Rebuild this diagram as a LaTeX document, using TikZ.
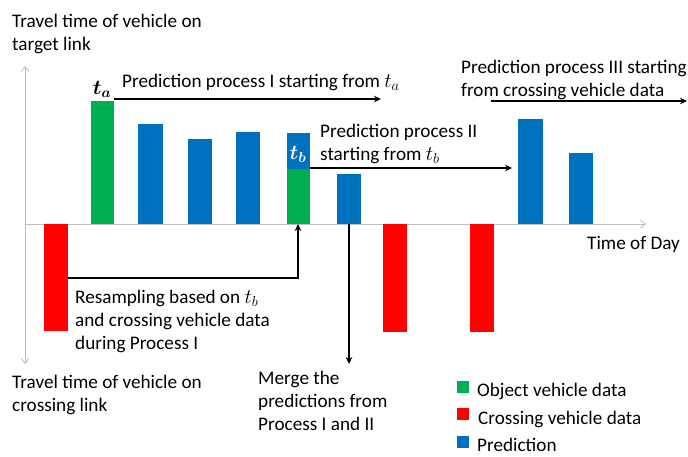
\documentclass[tikz,border=0pt]{standalone}
\usepackage{fontspec}
\setmainfont{Carlito}
\usepackage{amsmath,bm}
\usetikzlibrary{arrows.meta}
\definecolor{bgreen}{RGB}{0,176,80}
\definecolor{bred}{RGB}{255,0,0}
\definecolor{bblue}{RGB}{0,112,192}
\definecolor{axisgray}{RGB}{190,190,190}
\tikzset{
  lbl/.style={font=\fontsize{19.2}{22.8}\selectfont, inner sep=0pt, align=left},
  arr/.style={-{Stealth[length=7pt,width=6.5pt]}, line width=1.3pt, black},
  ax/.style={-{Straight Barb[length=5pt,width=8pt]}, axisgray, line width=0.8pt},
  sq/.style={inner sep=0pt, minimum size=12pt},
  tlbl/.style={inner sep=0pt, font=\fontsize{21}{22}\selectfont}
}
\begin{document}
\begin{tikzpicture}[x=1pt,y=-1pt]
\useasboundingbox (0,0) rectangle (688,456);
% axes
\coordinate (o) at (25,224);
\coordinate (ytop) at (25,66);
\coordinate (ybot) at (25,364);
\coordinate (xend) at (646,224);
\draw[ax] (o) -- (ytop);
\draw[ax] (o) -- (ybot);
\draw[ax] (o) -- (xend);
% bars
\fill[bred] (44,224) rectangle (68,331);
\fill[bgreen] (91,101) rectangle (114,224);
\fill[bblue] (138,124) rectangle (163,224);
\fill[bblue] (188,139) rectangle (212,224);
\fill[bblue] (236,132) rectangle (260,224);
\fill[bblue] (287,133) rectangle (310,169);
\fill[bgreen] (287,169) rectangle (310,224);
\fill[bblue] (337,174) rectangle (361,224);
\fill[bred] (383,224) rectangle (407,332);
\fill[bred] (470,224) rectangle (494,332);
\fill[bblue] (518,119) rectangle (543,224);
\fill[bblue] (569,153) rectangle (593,224);
% bar labels
\node[tlbl, anchor=base] (ta) at (102,94) {$\bm{t_a}$};
\node[tlbl, anchor=base, text=white] (tb) at (298,159) {$\bm{t_b}$};
% process I
\coordinate (p1s) at (114,99);
\coordinate (p1e) at (381,99);
\draw[arr] (p1s) -- (p1e);
\node[lbl, anchor=base west] (p1l) at (122,87) {Prediction process I starting from $t_a$};
% process II
\coordinate (p2s) at (310,168);
\coordinate (p2e) at (512,168);
\draw[arr] (p2s) -- (p2e);
\node[lbl, anchor=north west] (p2l) at (320,124) {Prediction process II\\starting from $t_b$};
% process III
\coordinate (p3s) at (491,101);
\coordinate (p3e) at (687,101);
\draw[arr] (p3s) -- (p3e);
\node[lbl, anchor=north west] (p3l) at (461,60) {Prediction process III starting\\from crossing vehicle data};
% resampling
\coordinate (rs) at (68,278);
\coordinate (rt) at (298,224);
\draw[arr] (rs) -| (rt);
\node[lbl, anchor=north west] (rl) at (75,290) {Resampling based on $t_b$\\and crossing vehicle data\\during Process I};
% merge
\coordinate (ms) at (349,224);
\coordinate (me) at (349,364);
\draw[arr] (ms) -- (me);
\node[lbl, anchor=north west] (ml) at (258,371) {Merge the\\predictions from\\Process I and II};
% axis labels
\node[lbl, anchor=north west] (yl1) at (12,14) {Travel time of vehicle on\\target link};
\node[lbl, anchor=north west] (yl2) at (12,375) {Travel time of vehicle on\\crossing link};
\node[lbl, anchor=base west] (xl) at (587,249) {Time of Day};
% legend
\node[sq, fill=bgreen] (lg) at (463,387) {};
\node[lbl, anchor=base west] (lgt) at (477,396) {Object vehicle data};
\node[sq, fill=bred] (lr) at (463,414) {};
\node[lbl, anchor=base west] (lrt) at (478,424) {Crossing vehicle data};
\node[sq, fill=bblue] (lb) at (463,442) {};
\node[lbl, anchor=base west] (lbt) at (477,451) {Prediction};
\end{tikzpicture}
\end{document}
